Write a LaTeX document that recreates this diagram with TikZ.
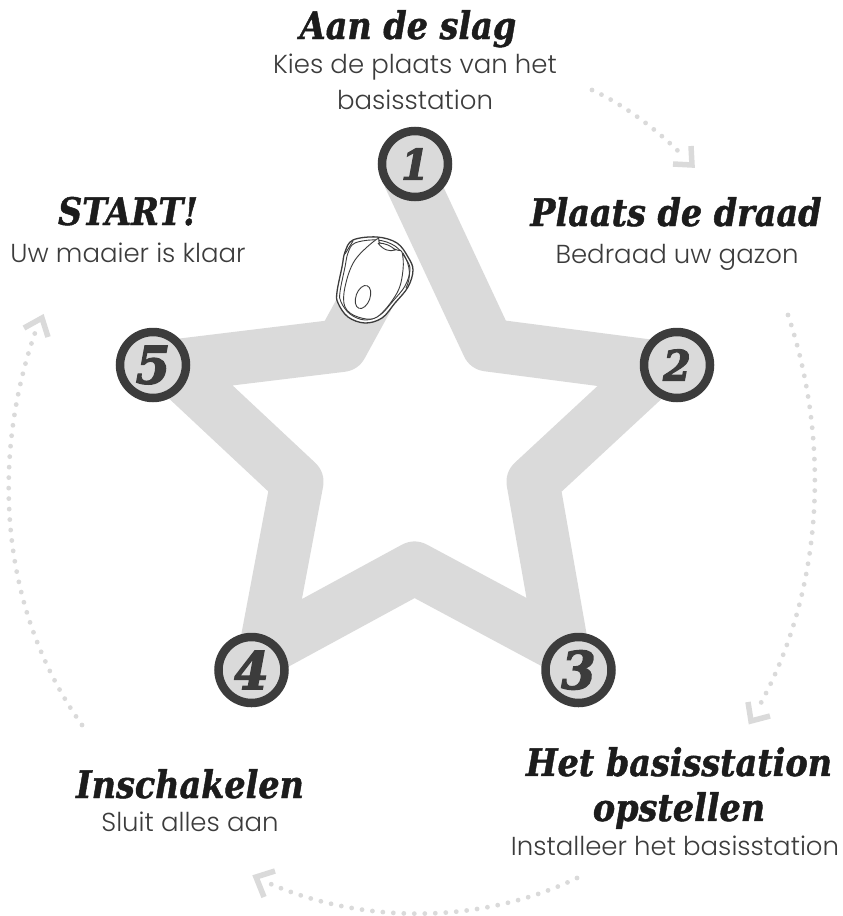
\documentclass[tikz,border=0pt]{standalone}
\usepackage{fontspec}
\setmainfont{Poppins Light}
\newfontfamily\headf[FakeBold=1.2,FakeStretch=.88]{DejaVu Serif}
\newfontfamily\digitf[FakeBold=2.6,FakeStretch=.95]{DejaVu Serif}
\definecolor{headgray}{HTML}{1C1C1C}
\definecolor{textgray}{HTML}{3C3C3C}
\definecolor{ringgray}{HTML}{3C3C3C}
\definecolor{bandgray}{HTML}{DADADA}
\tikzset{
  x=1pt,y=-1pt,
  head/.style={font=\headf\bfseries\itshape\fontsize{38}{45}\selectfont,text=headgray,align=center,inner sep=0},
  sub/.style={font=\fontsize{26}{36}\selectfont,text=textgray,align=center,inner sep=0},
  badge/.style={circle,draw=ringgray,line width=8.5pt,fill=bandgray,minimum size=66pt,inner sep=0,text=ringgray,font=\digitf\bfseries\itshape\fontsize{52}{52}\selectfont},
  lowdigit/.style={font=\digitf\bfseries\itshape\fontsize{42}{42}\selectfont},
  dots/.style={draw=bandgray,line width=4.8pt,line cap=round,dash pattern=on 0pt off 10.5pt},
  tip/.style={draw=bandgray,line width=5.5pt,line cap=butt,miter limit=10},
  mow/.style={draw=ringgray,line width=0.9pt,fill=white}
}
\begin{document}
\begin{tikzpicture}
\useasboundingbox (0,0) rectangle (843,916);
\draw[bandgray,line width=53pt,line join=round] (409,176)--(488,345)--(657,367)--(533,482)--(562,647)--(414.5,568)--(265.5,649)--(297,482)--(173,366)--(341.5,345.5)--(368,297);
\node[badge,lowdigit] (n1) at (415,164) {1};
\node[badge,lowdigit] (n2) at (677,365) {2};
\node[badge] (n3) at (578.5,670) {3};
\node[badge] (n4) at (251.5,670) {4};
\node[badge] (n5) at (153,365) {5};
% mower
\draw[mow,line width=1.3pt] plot[smooth cycle,tension=.6] coordinates {(353,240)(377,237)(397,243)(408,257)(413,270)(408,287)(395,303)(382,318)(365,323)(348,317)(338,303)(337,292)(342,267)(345,252)};
\draw[mow] plot[smooth cycle,tension=.6] coordinates {(355,243)(377,240)(395,246)(406,259)(410,270)(405,286)(393,301)(380,315)(365,320)(350,314)(341,302)(340,292)(345,267)(348,253)};
\draw[mow] plot[smooth cycle,tension=.6] coordinates {(377,239)(355,260)(345,287)(345,307)(358,317)(377,317)(397,293)(403,270)(402,252)(397,250)(380,243)};
\draw[mow,rotate around={-20:(363,297)}] (363,297) ellipse (7pt and 12pt);
\draw[mow] (378,243) .. controls (385,243) and (392,246) .. (395,250) .. controls (390,252) and (383,250) .. (378,243);
\draw[mow,fill=none] (353,241) -- (345,254);
\draw[mow,fill=none] (403,253) .. controls (411,266) and (411,278) .. (406,288);
% arrows
\coordinate (a1s) at (592,90);\coordinate (a1e) at (684,157);\coordinate (a1c) at (692,165);
\draw[dots] (a1s) .. controls (625,105) and (660,132) .. (a1e);
\draw[tip] (691,146)--(a1c)--(673,164);
\coordinate (a2s) at (788,315);\coordinate (a2e) at (757,710);\coordinate (a2c) at (751,721);
\draw[dots] (a2s) .. controls (830,440) and (825,590) .. (a2e);
\draw[tip] (748,702)--(a2c)--(770,716);
\coordinate (a3s) at (577,878);\coordinate (a3e) at (264,881);\coordinate (a3c) at (256,877);
\draw[dots] (a3s) .. controls (480,925) and (360,925) .. (a3e);
\draw[tip] (275,871)--(a3c)--(264,897);
\coordinate (a4s) at (82,725);\coordinate (a4e) at (36,330);\coordinate (a4c) at (42,318);
\draw[dots] (a4s) .. controls (0,610) and (-10,460) .. (a4e);
\draw[tip] (24,328)--(a4c)--(48,337);
% labels
\node[head,anchor=base] (t1) at (408,39) {Aan de slag};
\node[sub] (s1) at (415,82) {Kies de plaats van het\\basisstation};
\node[head,anchor=base] (t2) at (676,226) {Plaats de draad};
\node[sub,anchor=base] (s2) at (677,263) {Bedraad uw gazon};
\node[head] (t3) at (679,788) {Het basisstation\\opstellen};
\node[sub,anchor=base] (s3) at (675,855) {Installeer het basisstation};
\node[head,anchor=base] (t4) at (190,798) {Inschakelen};
\node[sub,anchor=base] (s4) at (190,831) {Sluit alles aan};
\node[head,anchor=base] (t5) at (128,225) {START!};
\node[sub,anchor=base] (s5) at (128,262) {Uw maaier is klaar};
\end{tikzpicture}
\end{document}
